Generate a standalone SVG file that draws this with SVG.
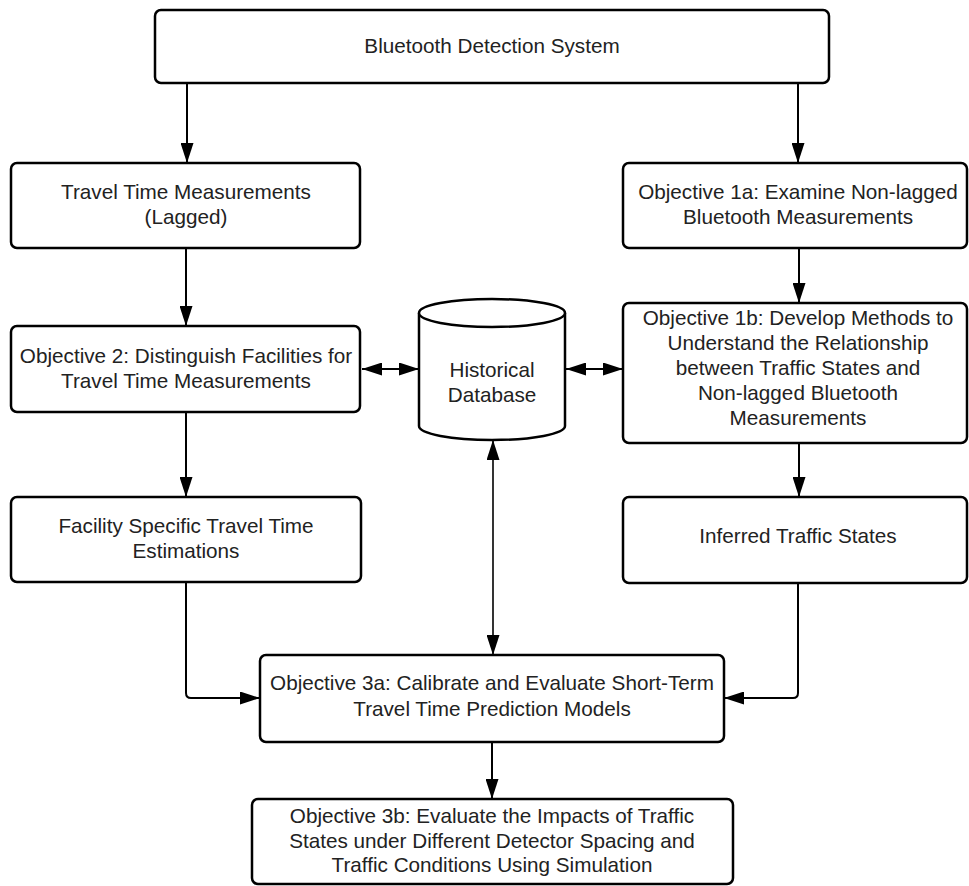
<svg xmlns="http://www.w3.org/2000/svg" width="969" height="886" viewBox="0 0 969 886">
<defs>
<marker id="ah" markerUnits="userSpaceOnUse" markerWidth="20" markerHeight="13" refX="20" refY="6.5" orient="auto-start-reverse">
<path d="M0,0 L20,6.5 L0,13 z" fill="#000"/>
</marker>
<style>
.box{fill:#fff;stroke:#000;stroke-width:2.5}
.t{font-family:"Liberation Sans",Arial,sans-serif;font-size:20.7px;fill:#222;text-anchor:middle}
.c{fill:none;stroke:#000;stroke-width:2}
.thin{stroke-width:1.6}
</style>
</defs>
<rect width="969" height="886" fill="#fff"/>
<g id="connectors">
<path class="c" d="M187,83 V163" marker-end="url(#ah)"/>
<path class="c" d="M798,83 V163" marker-end="url(#ah)"/>
<path class="c" d="M186,248 V326" marker-end="url(#ah)"/>
<path class="c" d="M186,412 V497" marker-end="url(#ah)"/>
<path class="c" d="M799,248 V303" marker-end="url(#ah)"/>
<path class="c" d="M799,443 V497" marker-end="url(#ah)"/>
<path class="c" d="M186,582 V693 Q186,698 191,698 H260" marker-end="url(#ah)"/>
<path class="c" d="M798,583 V693 Q798,698 793,698 H724" marker-end="url(#ah)"/>
<path class="c thin" d="M493,440 V655" marker-start="url(#ah)" marker-end="url(#ah)"/>
<path class="c" d="M362,369 H419" marker-start="url(#ah)" marker-end="url(#ah)"/>
<path class="c" d="M566,369 H623" marker-start="url(#ah)" marker-end="url(#ah)"/>
<path class="c" d="M492,742 V799" marker-end="url(#ah)"/>
</g>
<g id="bluetooth">
<rect class="box" x="155" y="10" width="674" height="73" rx="6"/>
<text class="t" x="492" y="53">Bluetooth Detection System</text>
</g>
<g id="travel-time">
<rect class="box" x="11" y="163" width="349" height="85" rx="6"/>
<text class="t" x="186" y="199">Travel Time Measurements</text>
<text class="t" x="186" y="224">(Lagged)</text>
</g>
<g id="objective2">
<rect class="box" x="11" y="326" width="349" height="86" rx="6"/>
<text class="t" x="186" y="363">Objective 2: Distinguish Facilities for</text>
<text class="t" x="186" y="388">Travel Time Measurements</text>
</g>
<g id="facility">
<rect class="box" x="11" y="497" width="350" height="85" rx="6"/>
<text class="t" x="186" y="533">Facility Specific Travel Time</text>
<text class="t" x="186" y="558">Estimations</text>
</g>
<g id="database">
<path class="box" d="M419,313 V426 A73,14 0 0 0 565,426 V313"/>
<ellipse class="box" cx="492" cy="313" rx="73" ry="14"/>
<text class="t" x="492" y="377">Historical</text>
<text class="t" x="492" y="402">Database</text>
</g>
<g id="objective1a">
<rect class="box" x="623" y="163" width="344" height="85" rx="6"/>
<text class="t" x="798" y="199">Objective 1a: Examine Non-lagged</text>
<text class="t" x="798" y="224">Bluetooth Measurements</text>
</g>
<g id="objective1b">
<rect class="box" x="623" y="303" width="344" height="140" rx="6"/>
<text class="t" x="798" y="325">Objective 1b: Develop Methods to</text>
<text class="t" x="798" y="350">Understand the Relationship</text>
<text class="t" x="798" y="375">between Traffic States and</text>
<text class="t" x="798" y="400">Non-lagged Bluetooth</text>
<text class="t" x="798" y="425">Measurements</text>
</g>
<g id="inferred">
<rect class="box" x="623" y="497" width="344" height="86" rx="6"/>
<text class="t" x="798" y="543">Inferred Traffic States</text>
</g>
<g id="objective3a">
<rect class="box" x="260" y="655" width="464" height="87" rx="6"/>
<text class="t" x="492" y="690">Objective 3a: Calibrate and Evaluate Short-Term</text>
<text class="t" x="492" y="716">Travel Time Prediction Models</text>
</g>
<g id="objective3b">
<rect class="box" x="252" y="799" width="481" height="85" rx="6"/>
<text class="t" x="492" y="823">Objective 3b: Evaluate the Impacts of Traffic</text>
<text class="t" x="492" y="848">States under Different Detector Spacing and</text>
<text class="t" x="492" y="872">Traffic Conditions Using Simulation</text>
</g>
</svg>
